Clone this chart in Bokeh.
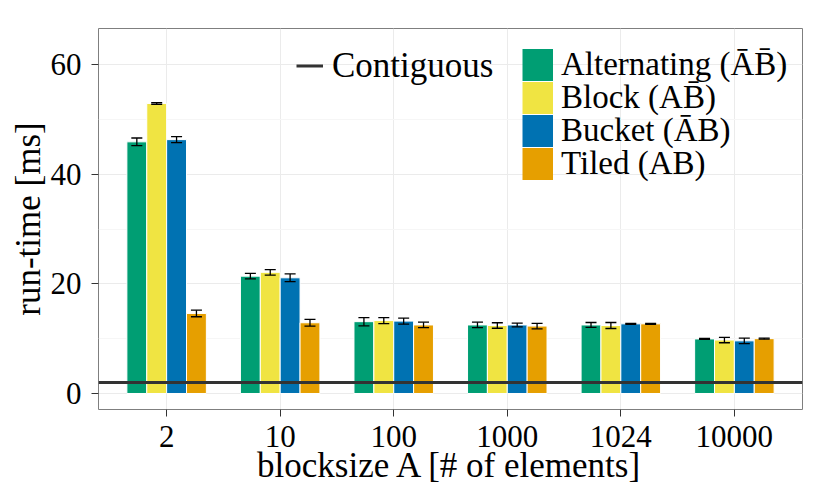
import numpy as np
from bokeh.plotting import figure
from bokeh.models import (FactorRange, Range1d, FixedTicker, Span, Legend,
                          LegendItem, ColumnDataSource)
from bokeh.transform import dodge
from bokeh.embed import file_html
from bokeh.resources import INLINE

# ---- data ----
categories = ["2", "10", "100", "1000", "1024", "10000"]
series_names = ["Alternating (\u0100B\u0304)", "Block (AB\u0304)",
                "Bucket (\u0100B)", "Tiled (AB)"]
colors = ["#009E73", "#F0E442", "#0072B2", "#E69F00"]

alternating = [45.9, 21.4, 13.1, 12.5, 12.5, 9.95]
alternating_sd = [0.7, 0.5, 0.75, 0.5, 0.45, 0.08]
block = [52.9, 22.1, 13.3, 12.4, 12.4, 9.75]
block_sd = [0.15, 0.5, 0.55, 0.5, 0.55, 0.5]
bucket = [46.3, 21.1, 13.2, 12.5, 12.7, 9.6]
bucket_sd = [0.55, 0.7, 0.55, 0.35, 0.1, 0.5]
tiled = [14.6, 12.9, 12.5, 12.3, 12.7, 10.0]
tiled_sd = [0.6, 0.6, 0.5, 0.5, 0.1, 0.1]
contiguous = 2.0

values = [alternating, block, bucket, tiled]
sds = [alternating_sd, block_sd, bucket_sd, tiled_sd]

FONT = "Liberation Serif"
BAR_W = 0.175
CAP = 0.0485
offsets = [-1.5 * BAR_W, -0.5 * BAR_W, 0.5 * BAR_W, 1.5 * BAR_W]

p = figure(width=830, height=498,
           x_range=FactorRange(*categories, range_padding=0.1,
                               range_padding_units="absolute"),
           y_range=Range1d(-2.92, 66.57),
           output_backend="svg", toolbar_location=None,
           min_border_left=98, min_border_right=28,
           min_border_top=28, min_border_bottom=89)
p.background_fill_color = "white"
p.border_fill_color = "white"
p.outline_line_color = "#7F7F7F"
p.outline_line_width = 1

for vals, sd, col, off in zip(values, sds, colors, offsets):
    v = np.array(vals)
    s = np.array(sd)
    src = ColumnDataSource(dict(x=categories, top=v, lo=v - s, hi=v + s))
    p.vbar(x=dodge("x", off, range=p.x_range), top="top", bottom=0,
           width=BAR_W, source=src, fill_color=col, line_color="white",
           line_width=1)
    p.segment(x0=dodge("x", off, range=p.x_range), x1=dodge("x", off, range=p.x_range),
              y0="lo", y1="hi", source=src, line_color="black", line_width=1.3)
    p.segment(x0=dodge("x", off - CAP, range=p.x_range), x1=dodge("x", off + CAP, range=p.x_range),
              y0="hi", y1="hi", source=src, line_color="black", line_width=1.3)
    p.segment(x0=dodge("x", off - CAP, range=p.x_range), x1=dodge("x", off + CAP, range=p.x_range),
              y0="lo", y1="lo", source=src, line_color="black", line_width=1.3)

p.add_layout(Span(location=contiguous, dimension="width",
                  line_color="#333333", line_width=3))

# legend proxies (no visible data); one Legend per entry for exact placement
nan = float("nan")
BOX_H = 33


def add_entry(label, renderer, x, center_from_top, glyph_w, standoff, size):
    bottom = 381 - center_from_top - BOX_H / 2  # frame height 381
    leg = Legend(items=[LegendItem(label=label, renderers=[renderer])],
                 location=(x, bottom), glyph_width=glyph_w, glyph_height=BOX_H,
                 label_height=BOX_H, label_standoff=standoff, padding=0,
                 margin=0, spacing=0, border_line_color=None,
                 background_fill_alpha=0, label_text_font=FONT,
                 label_text_font_size=size, label_text_color="black")
    p.add_layout(leg, "center")


rc = p.line(x=[categories[0]], y=[nan], line_color="#333333", line_width=3)
add_entry("Contiguous", rc, 198, 41.0, 27, 9, "35px")

for i, (name, col) in enumerate(zip(series_names, colors)):
    r = p.line(x=[categories[0]], y=[nan], line_color=col, line_width=32,
               line_cap="butt")
    add_entry(name, r, 424, 38.1 + 33.25 * i, 31, 8, "33px")

# axes & grid
p.yaxis.ticker = FixedTicker(ticks=[0, 20, 40, 60], minor_ticks=[10, 30, 50])
p.xgrid.grid_line_color = "#EBEBEB"
p.ygrid.grid_line_color = "#EBEBEB"
p.ygrid.minor_grid_line_color = "#F6F6F6"

for ax in (p.xaxis[0], p.yaxis[0]):
    ax.axis_line_color = None
    ax.major_tick_line_color = "#333333"
    ax.major_tick_line_width = 1
    ax.major_tick_out = 7
    ax.major_tick_in = 0
    ax.minor_tick_line_color = None
    ax.major_label_text_font = FONT
    ax.major_label_text_font_size = "31px"
    ax.major_label_text_color = "black"
    ax.axis_label_text_font = FONT
    ax.axis_label_text_font_size = "35px"
    ax.axis_label_text_font_style = "normal"
    ax.axis_label_text_color = "black"

p.xaxis.axis_label = "blocksize A [# of elements]"
p.yaxis.axis_label = "run-time [ms]"
p.xaxis.major_label_standoff = 9
p.xaxis.axis_label_standoff = -4
p.yaxis.major_label_standoff = 10
p.yaxis.axis_label_standoff = 0

open("out.html", "w").write(file_html(p, INLINE))
